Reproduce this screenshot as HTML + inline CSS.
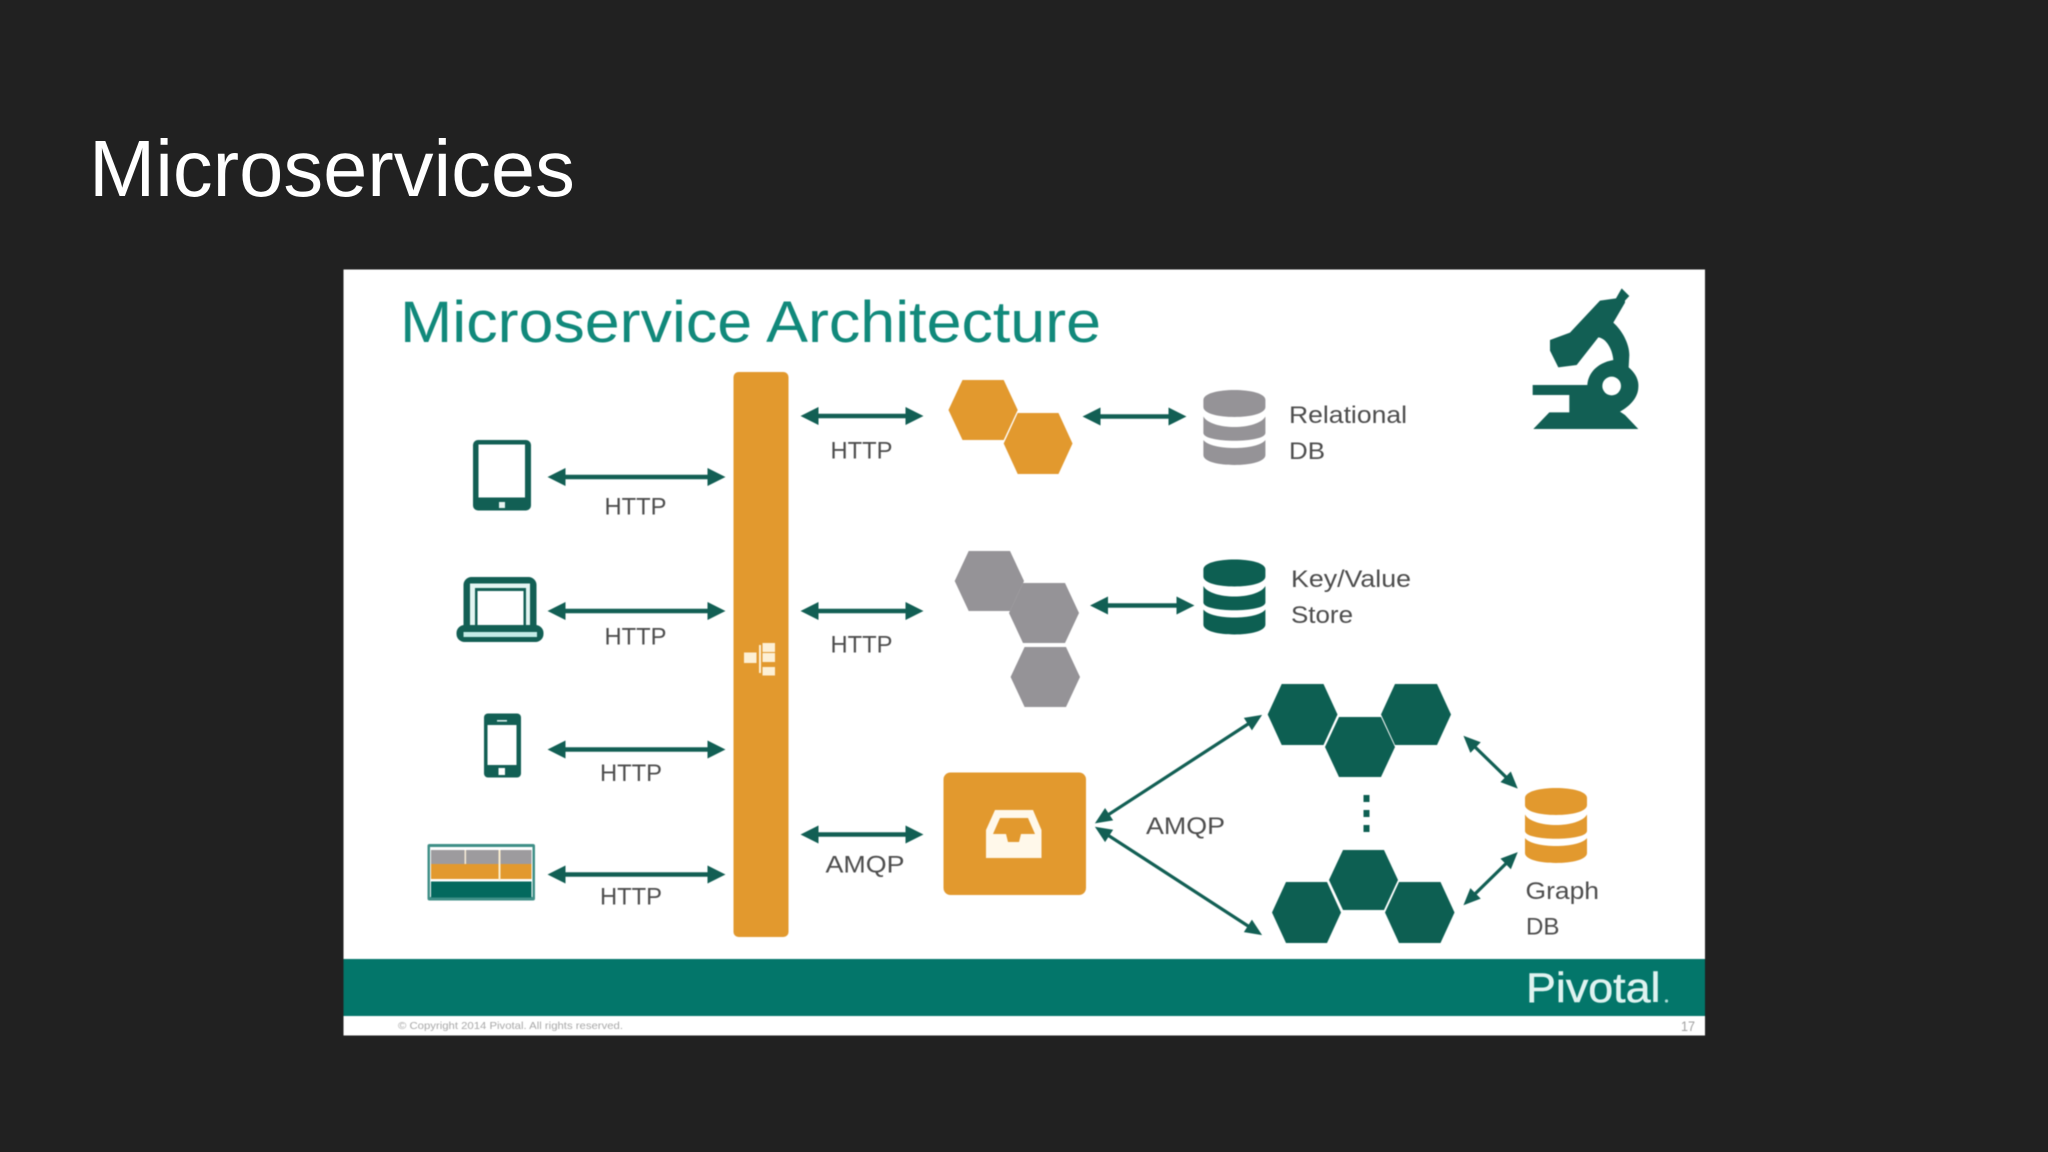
<!DOCTYPE html>
<html><head><meta charset="utf-8"><title>Microservices</title>
<style>
html,body{margin:0;padding:0;background:#212121;width:2048px;height:1152px;overflow:hidden}
svg{display:block;position:absolute;left:0;top:0}
text{font-family:"Liberation Sans",sans-serif}
.lb{font-size:24.5px;fill:#4d4d4d}
</style></head><body>
<svg width="2048" height="1152" viewBox="0 0 2048 1152" xmlns="http://www.w3.org/2000/svg">
<defs>
<marker id="a" markerUnits="userSpaceOnUse" markerWidth="18" markerHeight="18" viewBox="0 0 17 17" refX="9" refY="8.5" orient="auto-start-reverse"><path d="M0,0L17,8.5L0,17Z" fill="#125f54"/></marker>
<marker id="b" markerUnits="userSpaceOnUse" markerWidth="18" markerHeight="18" viewBox="0 0 17 17" refX="9" refY="8.5" orient="auto-start-reverse"><path d="M1,1.5L17,8.5L1,15.5Z" fill="#125f54"/></marker>
<g id="cyl">
<path d="M0,10C0,-3.3 62,-3.3 62,10V17C62,30.3 0,30.3 0,17Z"/>
<path d="M0,26.5C8,40.5 54,40.5 62,26.5V43C62,53.3 0,53.3 0,43Z"/>
<path d="M0,50C8,60.7 54,60.7 62,50V65C62,78.3 0,78.3 0,65Z"/>
</g>
</defs>
<rect width="2048" height="1152" fill="#212121"/>
<text x="89" y="196" font-size="79.5" fill="#ffffff">Microservices</text>
<g style="filter:blur(0.6px)">
<rect x="343.5" y="269.5" width="1361.5" height="766" fill="#ffffff"/>
<rect x="343.5" y="959" width="1361.5" height="57" fill="#03766a"/>
<text x="400" y="342" font-size="58" fill="#11897b" textLength="701" lengthAdjust="spacingAndGlyphs">Microservice Architecture</text>

<rect x="733.5" y="372" width="55" height="565" rx="5" fill="#e2992e"/>
<g fill="#fdf0d5">
<rect x="744" y="652.5" width="12.5" height="10.5"/>
<rect x="762.5" y="643" width="12.5" height="9"/>
<rect x="762.5" y="653" width="12.5" height="9"/>
<rect x="762.5" y="667" width="12.5" height="8.5"/>
<rect x="759" y="645" width="2" height="28"/>
</g>

<g stroke="#125f54" stroke-width="4.5" fill="none" marker-start="url(#a)" marker-end="url(#a)">
<line x1="556" y1="477" x2="717" y2="477"/>
<line x1="556" y1="611" x2="717" y2="611"/>
<line x1="556" y1="749.5" x2="717" y2="749.5"/>
<line x1="556" y1="874.5" x2="717" y2="874.5"/>
<line x1="809" y1="416" x2="915" y2="416"/>
<line x1="809" y1="611" x2="915" y2="611"/>
<line x1="809" y1="834.5" x2="915" y2="834.5"/>
<line x1="1091" y1="416.5" x2="1178" y2="416.5"/>
<line x1="1098.5" y1="605.5" x2="1186" y2="605.5"/>
</g>
<g stroke="#125f54" stroke-width="3.2" fill="none" marker-start="url(#b)" marker-end="url(#b)">
<line x1="1102" y1="818.8" x2="1255" y2="719.5"/>
<line x1="1102" y1="831.3" x2="1255" y2="930.5"/>
<line x1="1469.5" y1="741.6" x2="1511.7" y2="782.7"/>
<line x1="1469.5" y1="899.3" x2="1511.7" y2="858"/>
</g>

<g class="labels">
<text class="lb" x="604.5" y="514.5" textLength="62" lengthAdjust="spacingAndGlyphs">HTTP</text>
<text class="lb" x="604.5" y="644.5" textLength="62" lengthAdjust="spacingAndGlyphs">HTTP</text>
<text class="lb" x="600" y="781" textLength="62" lengthAdjust="spacingAndGlyphs">HTTP</text>
<text class="lb" x="600" y="904.5" textLength="62" lengthAdjust="spacingAndGlyphs">HTTP</text>
<text class="lb" x="830.5" y="458.5" textLength="62" lengthAdjust="spacingAndGlyphs">HTTP</text>
<text class="lb" x="830.5" y="652.5" textLength="62" lengthAdjust="spacingAndGlyphs">HTTP</text>
<text class="lb" x="825.5" y="872.5" textLength="79" lengthAdjust="spacingAndGlyphs">AMQP</text>
<text class="lb" x="1146" y="834" textLength="79" lengthAdjust="spacingAndGlyphs">AMQP</text>
<text class="lb" x="1289" y="423" textLength="118" lengthAdjust="spacingAndGlyphs">Relational</text>
<text class="lb" x="1289" y="459" textLength="36" lengthAdjust="spacingAndGlyphs">DB</text>
<text class="lb" x="1291" y="587" textLength="120" lengthAdjust="spacingAndGlyphs">Key/Value</text>
<text class="lb" x="1291" y="623" textLength="62" lengthAdjust="spacingAndGlyphs">Store</text>
<text class="lb" x="1525.5" y="899" textLength="73.5" lengthAdjust="spacingAndGlyphs">Graph</text>
<text class="lb" x="1526" y="934.5" textLength="33.5" lengthAdjust="spacingAndGlyphs">DB</text>
</g>

<!-- tablet -->
<rect x="473" y="440" width="58" height="70.5" rx="5" fill="#125f54"/>
<rect x="478.5" y="444.5" width="46.5" height="53" fill="#fff"/>
<rect x="499" y="502" width="6" height="6" fill="#e8f4f2"/>
<!-- laptop -->
<path d="M463.5,630V585a8,8 0 0 1 8,-8H528.5a8,8 0 0 1 8,8V630Z" fill="#125f54"/>
<rect x="470" y="583.5" width="60" height="44" fill="#e3f5f2"/>
<rect x="475" y="588" width="51" height="39" fill="#125f54"/>
<rect x="477.5" y="591" width="46" height="35" fill="#fff"/>
<rect x="456.5" y="625" width="87" height="17" rx="8" fill="#125f54"/>
<rect x="463.5" y="632" width="73.5" height="5" fill="#c3ece6"/>
<!-- phone -->
<rect x="484" y="713.5" width="37" height="64" rx="4" fill="#125f54"/>
<rect x="487.5" y="725" width="29" height="40" fill="#fff"/>
<rect x="497" y="720" width="10" height="1.6" fill="#d8efec"/>
<rect x="498.5" y="768" width="6.5" height="7" fill="#fff"/>
<!-- dashboard -->
<rect x="427.5" y="844" width="107.5" height="56.5" rx="2" fill="#3f8f87"/>
<rect x="430" y="847" width="102.5" height="50" fill="#fff" />
<rect x="431" y="850" width="100.5" height="14" fill="#9d9b9e"/>
<rect x="431" y="864" width="100.5" height="15" fill="#e2992e"/>
<rect x="431" y="881.5" width="100.5" height="16" fill="#03695e"/>
<rect x="464.5" y="850" width="1.6" height="14" fill="#f5ead6"/>
<rect x="498.5" y="850" width="2" height="30" fill="#fbeecf"/>

<!-- hexagons -->
<g fill="#e2992e">
<polygon points="962.5,380 1003.7,380 1017.7,410 1003.7,440 962.5,440 948.5,410"/>
<polygon points="1017.7,413 1058.5,413 1072.5,443.5 1058.5,474 1017.7,474 1003.7,443.5"/>
</g>
<g fill="#959397">
<polygon points="968.7,551 1010,551 1024,581 1010,611 968.7,611 954.7,581"/>
<polygon points="1023,583 1065,583 1079,613 1065,643 1023,643 1009,613"/>
<polygon points="1024.6,647 1066,647 1080,677 1066,707 1024.6,707 1010.6,677"/>
</g>
<g fill="#0d5f52">
<polygon points="1281.7,684 1323.5,684 1337.5,714.5 1323.5,745 1281.7,745 1267.7,714.5"/>
<polygon points="1395,684 1437,684 1451,714.5 1437,745 1395,745 1381,714.5"/>
<polygon points="1339,717 1381,717 1395,747 1381,777 1339,777 1325,747"/>
<polygon points="1286,882 1327,882 1341,912.5 1327,943 1286,943 1272,912.5"/>
<polygon points="1399,882 1440.5,882 1454.5,912.5 1440.5,943 1399,943 1385,912.5"/>
<polygon points="1343,850 1384,850 1398,880 1384,910 1343,910 1329,880"/>
<rect x="1363.5" y="795" width="6" height="7"/>
<rect x="1363.5" y="810" width="6" height="7"/>
<rect x="1363.5" y="825" width="6" height="7"/>
</g>

<!-- box -->
<rect x="943.5" y="772.5" width="142.5" height="122.5" rx="7" fill="#e2992e"/>
<path d="M995,810H1033L1041.5,830V858H986V830Z" fill="#fff8ea"/>
<path d="M1000,818H1028L1035,834H1021L1019,842H1008L1006,834H993Z" fill="#e2992e"/>

<!-- databases -->
<use href="#cyl" x="1203.4" y="390" fill="#959397"/>
<use href="#cyl" x="1203.4" y="559.5" fill="#0d5f52"/>
<use href="#cyl" x="1525" y="788" fill="#e2992e"/>

<!-- microscope -->
<g transform="translate(1510,280) scale(.3333)">
<path fill="#125f54" d="M335,25L358,48L345,62L345,68L310,128C335,150 358,190 358,225L356,262C375,278 387,298 385,322C384,350 365,375 330,395L345,405L385,447H70L118,397H178V345H150L68,345V315H232C234,285 255,250 310,240C308,210 290,175 265,172L200,255L145,262L120,212V180L180,158L270,62L318,55Z"/>
<circle cx="305" cy="318" r="28" fill="#fff"/>
</g>

<!-- footer -->
<text x="1526" y="1002" font-size="42" fill="#dff3f0" stroke="#dff3f0" stroke-width=".5" textLength="134.5" lengthAdjust="spacingAndGlyphs">Pivotal</text>
<circle cx="1666.5" cy="1001" r="1.6" fill="#a9d9d3"/>
<text x="398" y="1029" font-size="10.5" fill="#a8a8a8" textLength="225" lengthAdjust="spacingAndGlyphs">© Copyright 2014 Pivotal. All rights reserved.</text>
<text x="1681" y="1031" font-size="14" fill="#a0a0a0" textLength="14" lengthAdjust="spacingAndGlyphs">17</text>
</g>
</svg>
</body></html>
